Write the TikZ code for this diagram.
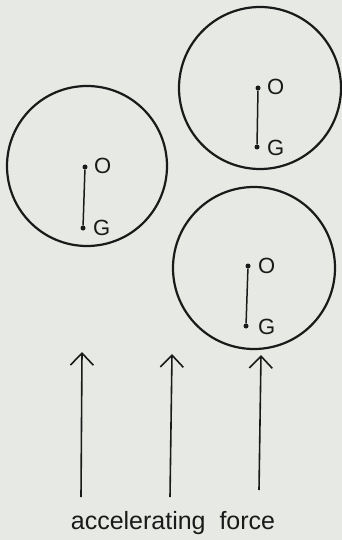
\documentclass[tikz,border=0pt]{standalone}
\usepackage{fontspec}
\setmainfont{Liberation Sans}
\usetikzlibrary{arrows.meta}
\definecolor{paper}{HTML}{E7E9E4}
\definecolor{ink}{HTML}{1A1A1A}
\begin{document}
\begin{tikzpicture}[x=1pt,y=-1pt,
  ball/.style={circle,draw=ink,line width=2.2pt,minimum size=#1,inner sep=0pt},
  rod/.style={draw=ink,line width=1.5pt},
  pt/.style={circle,fill=ink,inner sep=0pt,minimum size=5pt},
  lab/.style={font=\fontsize{22}{22}\selectfont,text=ink,anchor=west,inner sep=0pt},
  force/.style={draw=ink,line width=1.6pt,-{Straight Barb[length=12pt,width=23pt,line width=1.6pt]}},
]
\fill[paper] (0,0) rectangle (342,540);
\useasboundingbox (0,0) rectangle (342,540);
% left ball
\node[ball=160pt] (b1) at (87,166) {};
\node[pt] (o1) at (85,167) {};
\node[pt] (g1) at (83,228) {};
\draw[rod] (o1) -- (g1);
\node[lab] (lo1) at (94,166) {O};
\node[lab] (lg1) at (93,228) {G};
% top right ball
\node[ball=162pt] (b2) at (260,88) {};
\node[pt] (o2) at (258,88) {};
\node[pt] (g2) at (257,147) {};
\draw[rod] (o2) -- (g2);
\node[lab] (lo2) at (267,87) {O};
\node[lab] (lg2) at (267,148) {G};
% bottom right ball
\node[ball=162pt] (b3) at (254,268) {};
\node[pt] (o3) at (248,266) {};
\node[pt] (g3) at (246,326) {};
\draw[rod] (o3) -- (g3);
\node[lab] (lo3) at (258,266) {O};
\node[lab] (lg3) at (258,327) {G};
% arrows
\coordinate (a1s) at (81,497);
\coordinate (a1e) at (82,352);
\coordinate (a2s) at (170,497);
\coordinate (a2e) at (172,354);
\coordinate (a3s) at (259,490);
\coordinate (a3e) at (261,355);
\draw[force] (a1s) -- (a1e);
\draw[force] (a2s) -- (a2e);
\draw[force] (a3s) -- (a3e);
\node[font=\fontsize{25}{25}\selectfont,text=ink,inner sep=0pt] (txt) at (173,523) {accelerating\ \ force};
\end{tikzpicture}
\end{document}
